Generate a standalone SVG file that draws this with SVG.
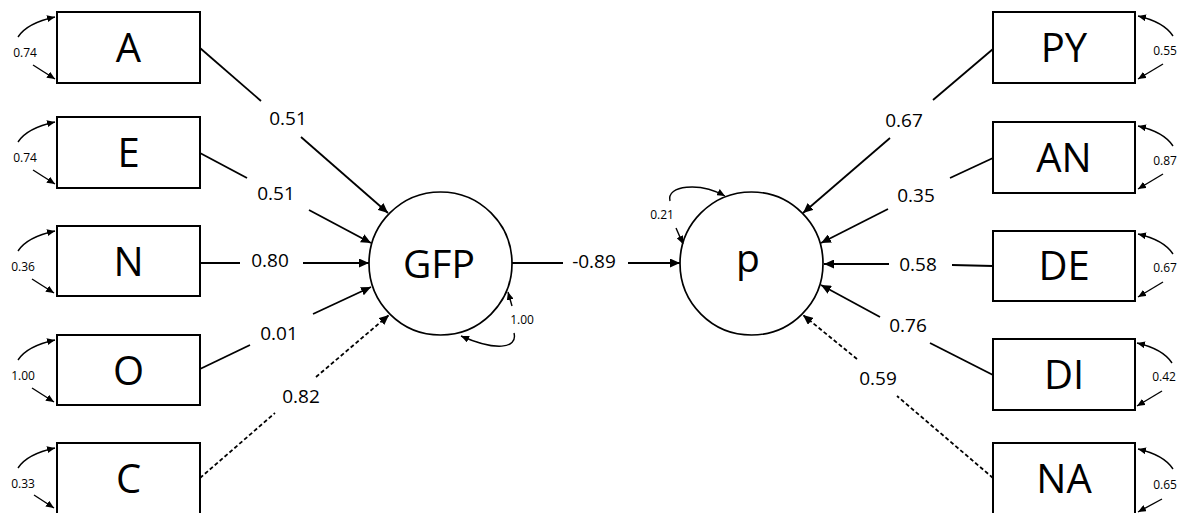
<svg xmlns="http://www.w3.org/2000/svg" width="1184" height="513" viewBox="0 0 1184 513">
<style>
.box{fill:#fff;stroke:#000;stroke-width:2}
.circ{fill:#fff;stroke:#000;stroke-width:1.7}
.big{font-family:"Open Sans","Liberation Sans",sans-serif;font-size:40px;text-anchor:middle;fill:#000}
.lat{font-family:"Open Sans","Liberation Sans",sans-serif;font-size:39px;text-anchor:middle;fill:#000}
.lbl{font-family:"Open Sans","Liberation Sans",sans-serif;font-size:19px;text-anchor:middle;fill:#000}
.sm{font-family:"Open Sans","Liberation Sans",sans-serif;font-size:12px;text-anchor:middle;fill:#000}
.ln{fill:none;stroke:#000;stroke-width:1.8}
.dash{stroke-dasharray:4 2.5}
.arr{marker-end:url(#ah)}
.var{fill:none;stroke:#000;stroke-width:1.4;marker-end:url(#ahs)}
</style>
<defs>
<marker id="ah" markerUnits="userSpaceOnUse" markerWidth="11" markerHeight="9" refX="10" refY="4.5" orient="auto"><path d="M0,0 L10,4.5 L0,9 z" fill="#000"/></marker>
<marker id="ahs" markerUnits="userSpaceOnUse" markerWidth="9" markerHeight="7" refX="8" refY="3.5" orient="auto"><path d="M0,0 L8,3.5 L0,7 z" fill="#000"/></marker>
</defs>

<g id="connectors">
<line class="ln" x1="200" y1="48" x2="261" y2="101"/><line class="ln arr" x1="301" y1="137" x2="388" y2="213"/>
<line class="ln" x1="200" y1="153" x2="247" y2="178"/><line class="ln arr" x1="309" y1="210" x2="371" y2="243"/>
<line class="ln" x1="200" y1="263" x2="240" y2="263"/><line class="ln arr" x1="303" y1="263" x2="369" y2="263"/>
<line class="ln" x1="200" y1="369" x2="250" y2="345"/><line class="ln arr" x1="313" y1="314" x2="371" y2="287"/>
<line class="ln dash" x1="200" y1="478" x2="275" y2="413"/><line class="ln dash arr" x1="316" y1="377" x2="389" y2="315"/>
<line class="ln" x1="512" y1="263" x2="563" y2="263"/><line class="ln arr" x1="628" y1="263" x2="680" y2="263"/>
<line class="ln" x1="993" y1="49" x2="933" y2="100"/><line class="ln arr" x1="890" y1="138" x2="803" y2="213"/>
<line class="ln" x1="993" y1="158" x2="950" y2="178"/><line class="ln arr" x1="888" y1="209" x2="821" y2="243"/>
<line class="ln" x1="993" y1="266" x2="952" y2="265"/><line class="ln arr" x1="889" y1="264" x2="824" y2="264"/>
<line class="ln" x1="993" y1="375" x2="930" y2="343"/><line class="ln arr" x1="880" y1="317" x2="821" y2="285"/>
<line class="ln dash" x1="993" y1="478" x2="897" y2="396"/><line class="ln dash arr" x1="857" y1="359" x2="803" y2="315"/>
<text class="lbl" x="288" y="125">0.51</text>
<text class="lbl" x="276" y="200">0.51</text>
<text class="lbl" x="270" y="267">0.80</text>
<text class="lbl" x="279" y="340">0.01</text>
<text class="lbl" x="301" y="403">0.82</text>
<text class="lbl" x="594" y="268">-0.89</text>
<text class="lbl" x="904" y="127">0.67</text>
<text class="lbl" x="916" y="202">0.35</text>
<text class="lbl" x="918" y="271">0.58</text>
<text class="lbl" x="908" y="332">0.76</text>
<text class="lbl" x="878" y="385">0.59</text>
</g>

<g id="GFP">
<circle class="circ" cx="440.5" cy="263.5" r="71.5"/>
<text class="lat" x="439" y="278">GFP</text>
<path class="var" d="M512,306 L508,292"/>
<path class="var" d="M514,333 C518,349 495,351 461,336"/>
<text class="sm" x="522" y="324">1.00</text>
</g>

<g id="p">
<circle class="circ" cx="751.5" cy="263.5" r="71.5"/>
<text class="lat" x="748" y="272">p</text>
<path class="var" d="M670,201 C666,185 700,182 725,196"/>
<path class="var" d="M676,228 L683,244"/>
<text class="sm" x="662" y="219">0.21</text>
</g>

<g id="A">
<rect class="box" x="57" y="12" width="143" height="71"/>
<text class="big" x="128.5" y="62">A</text>
<path class="var" d="M18,37 Q27,23 55,17"/><path class="var" d="M33,65 L55,79"/>
<text class="sm" x="25" y="57">0.74</text>
</g>
<g id="E">
<rect class="box" x="57" y="117" width="143" height="71"/>
<text class="big" x="128.5" y="167">E</text>
<path class="var" d="M18,142 Q27,128 55,122"/><path class="var" d="M33,170 L55,184"/>
<text class="sm" x="25" y="162">0.74</text>
</g>
<g id="N">
<rect class="box" x="57" y="226" width="143" height="70"/>
<text class="big" x="128.5" y="276">N</text>
<path class="var" d="M18,251 Q27,237 55,231"/><path class="var" d="M32,279 L54,293"/>
<text class="sm" x="23" y="271">0.36</text>
</g>
<g id="O">
<rect class="box" x="57" y="335" width="143" height="70"/>
<text class="big" x="128.5" y="385">O</text>
<path class="var" d="M18,360 Q27,346 55,340"/><path class="var" d="M32,388 L54,402"/>
<text class="sm" x="23" y="380">1.00</text>
</g>
<g id="C">
<rect class="box" x="57" y="443" width="143" height="72"/>
<text class="big" x="128.5" y="493">C</text>
<path class="var" d="M18,468 Q27,454 55,448"/><path class="var" d="M34,495 L54,508"/>
<text class="sm" x="23" y="488">0.33</text>
</g>

<g id="PY">
<rect class="box" x="993" y="12" width="142" height="71"/>
<text class="big" x="1064" y="62">PY</text>
<path class="var" d="M1173,36 Q1164,22 1138,16"/><path class="var" d="M1163,64 L1138,79"/>
<text class="sm" x="1165" y="55">0.55</text>
</g>
<g id="AN">
<rect class="box" x="993" y="122" width="142" height="71"/>
<text class="big" x="1064" y="172">AN</text>
<path class="var" d="M1173,146 Q1164,132 1138,126"/><path class="var" d="M1163,174 L1138,189"/>
<text class="sm" x="1165" y="165">0.87</text>
</g>
<g id="DE">
<rect class="box" x="993" y="231" width="142" height="70"/>
<text class="big" x="1064" y="280">DE</text>
<path class="var" d="M1173,254 Q1164,240 1138,234"/><path class="var" d="M1163,282 L1138,297"/>
<text class="sm" x="1165" y="272">0.67</text>
</g>
<g id="DI">
<rect class="box" x="993" y="339" width="142" height="71"/>
<text class="big" x="1064" y="389">DI</text>
<path class="var" d="M1172,363 Q1163,349 1137,343"/><path class="var" d="M1162,391 L1137,406"/>
<text class="sm" x="1164" y="381">0.42</text>
</g>
<g id="NA">
<rect class="box" x="993" y="443" width="142" height="72"/>
<text class="big" x="1064" y="493">NA</text>
<path class="var" d="M1173,469 Q1164,455 1138,449"/><path class="var" d="M1162,499 L1138,512"/>
<text class="sm" x="1165" y="489">0.65</text>
</g>
</svg>
